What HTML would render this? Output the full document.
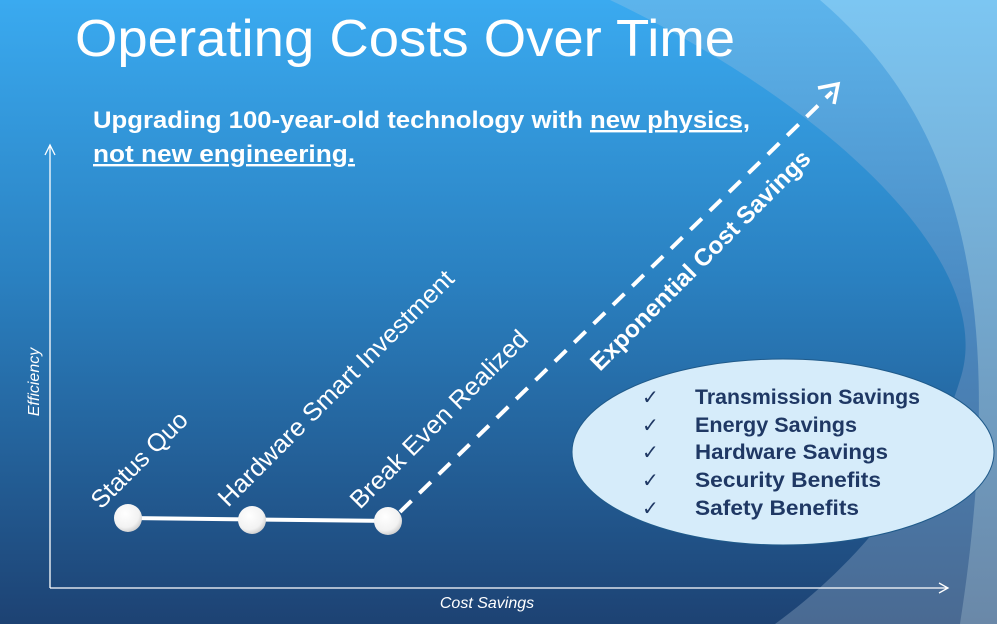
<!DOCTYPE html>
<html><head><style>
html,body{margin:0;padding:0;width:997px;height:624px;overflow:hidden}
svg{display:block}
text{font-family:"Liberation Sans","DejaVu Sans",sans-serif}
</style></head><body>
<svg width="997" height="624" viewBox="0 0 997 624" xmlns="http://www.w3.org/2000/svg">
<defs>
<linearGradient id="bg" x1="0" y1="0" x2="0" y2="1">
<stop offset="0" stop-color="#3aaaf0"/><stop offset="0.45" stop-color="#2a80c0"/><stop offset="1" stop-color="#1d4273"/>
</linearGradient>
<linearGradient id="out" x1="0" y1="0" x2="0" y2="1">
<stop offset="0" stop-color="#7cc6f2"/><stop offset="1" stop-color="#6a88a8"/>
</linearGradient>
<linearGradient id="mid" x1="0" y1="0" x2="0" y2="1">
<stop offset="0" stop-color="#5cb4ec"/><stop offset="0.5" stop-color="#4a88c0"/><stop offset="1" stop-color="#4a6a92"/>
</linearGradient>
<radialGradient id="ball" cx="0.4" cy="0.35" r="0.7">
<stop offset="0" stop-color="#ffffff"/><stop offset="0.7" stop-color="#f2f2f2"/><stop offset="1" stop-color="#c8c8c8"/>
</radialGradient>
</defs>
<rect width="997" height="624" fill="url(#out)"/>
<path d="M820,0 C960,120 1010,300 960,624 L0,624 L0,0Z" fill="url(#mid)"/>
<path d="M610,0 C820,100 1000,260 960,380 C930,480 850,570 775,624 L0,624 L0,0Z" fill="url(#bg)"/>
<text x="75" y="56" font-size="52" fill="#fff" textLength="660" lengthAdjust="spacingAndGlyphs">Operating Costs Over Time</text>
<text x="93" y="128" font-size="24" font-weight="bold" fill="#fff" textLength="657" lengthAdjust="spacingAndGlyphs">Upgrading 100-year-old technology with <tspan text-decoration="underline">new physics,</tspan></text>
<text x="93" y="162" font-size="24" font-weight="bold" fill="#fff" text-decoration="underline" textLength="262" lengthAdjust="spacingAndGlyphs">not new engineering.</text>
<g stroke="#fff" stroke-width="1.3" fill="none">
<line x1="50" y1="588" x2="50" y2="145"/><polyline points="45,155 50,145 55,155"/>
<line x1="50" y1="588" x2="948" y2="588"/><polyline points="939,583 948,588 939,593"/>
</g>
<text x="487" y="608" font-size="16" font-style="italic" fill="#fff" text-anchor="middle">Cost Savings</text>
<text transform="translate(39,382) rotate(-90)" font-size="16" font-style="italic" fill="#fff" text-anchor="middle">Efficiency</text>
<line x1="128" y1="518" x2="388" y2="521" stroke="#fff" stroke-width="4"/>
<line x1="400" y1="512" x2="832" y2="92" stroke="#fff" stroke-width="4" stroke-dasharray="16,11"/>
<polyline points="818,88 838,84 834,104" stroke="#fff" stroke-width="3.5" fill="none"/>
<circle cx="128" cy="518" r="14" fill="url(#ball)"/>
<circle cx="252" cy="520" r="14" fill="url(#ball)"/>
<circle cx="388" cy="521" r="14" fill="url(#ball)"/>
<g font-size="25" fill="#fff">
<text transform="translate(101,510) rotate(-45)">Status Quo</text>
<text transform="translate(228,508) rotate(-45)" textLength="322" lengthAdjust="spacingAndGlyphs">Hardware Smart Investment</text>
<text transform="translate(360,510) rotate(-45)" textLength="240" lengthAdjust="spacingAndGlyphs">Break Even Realized</text>
<text transform="translate(600,372) rotate(-45)" font-weight="bold" font-size="24" textLength="300" lengthAdjust="spacingAndGlyphs">Exponential Cost Savings</text>
</g>
<ellipse cx="783" cy="452" rx="211" ry="93" fill="#d6ecfa" stroke="#1f5a8a" stroke-width="1"/>
<g font-size="21" font-weight="bold" fill="#1f3864">
<text x="695" y="404" textLength="225" lengthAdjust="spacingAndGlyphs">Transmission Savings</text>
<text x="695" y="432" textLength="162" lengthAdjust="spacingAndGlyphs">Energy Savings</text>
<text x="695" y="459" textLength="193" lengthAdjust="spacingAndGlyphs">Hardware Savings</text>
<text x="695" y="487" textLength="186" lengthAdjust="spacingAndGlyphs">Security Benefits</text>
<text x="695" y="515" textLength="164" lengthAdjust="spacingAndGlyphs">Safety Benefits</text>
</g>
<g font-size="20" fill="#1f3864" font-family="DejaVu Sans" font-weight="bold">
<text x="642" y="404">✓</text><text x="642" y="432">✓</text><text x="642" y="459">✓</text><text x="642" y="487">✓</text><text x="642" y="515">✓</text>
</g>
</svg>
</body></html>
